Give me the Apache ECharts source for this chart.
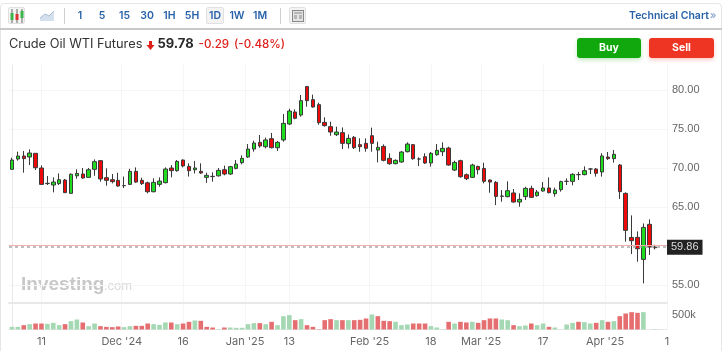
<!DOCTYPE html>
<html>
<head>
<meta charset="utf-8">
<title>Crude Oil WTI Futures</title>
<script src="https://cdn.jsdelivr.net/npm/echarts@6/dist/echarts.min.js"></script>
<style>
  html, body { margin: 0; padding: 0; background: #fff; }
  body { width: 726px; height: 351px; overflow: hidden; position: relative; font-family: Inter, "Liberation Sans", sans-serif; }
  #chart { position: absolute; left: 0; top: 0; width: 726px; height: 351px; }
  .frame { position: absolute; left: 0; top: 3px; width: 722px; height: 360px; border: 1.5px solid #e6e6e6; border-radius: 4px; box-sizing: border-box; }
  .bar { position: absolute; left: 0; top: 28px; width: 722px; height: 1.5px; background: #c9c9c9; }
  .t { position: absolute; top: 8px; height: 16px; line-height: 16px; transform: translateX(-50%); color: #2a62a8; font-size: 10.5px; font-weight: 600; white-space: nowrap; }
  .sep { position: absolute; top: 8px; width: 1px; height: 16px; background: #cfcfcf; }
  .btn { position: absolute; top: 7px; height: 17px; box-sizing: border-box; background: #f3f3f3; border: 1px solid #e0e0e0; border-radius: 2px; }
  .act { position: absolute; top: 38px; height: 20px; line-height: 20px; text-align: center; color: #fff; font-size: 10.5px; font-weight: 700; border-radius: 3px; }
  svg { position: absolute; }
</style>
</head>
<body>
<div id="chart"></div>
<div class="frame"></div>
<div class="bar"></div>
<div class="btn" style="left:8px;width:17px"></div>
<svg style="left:9px;top:8px" width="16" height="16">
  <path d="M3 1v14M8 1v14M13 1v14" stroke="#666" stroke-width="1"/>
  <rect x="1.5" y="5" width="3" height="7" fill="#3bb54a"/>
  <rect x="6.5" y="6" width="3" height="6" fill="#d33"/>
  <rect x="11.5" y="3" width="3" height="7" fill="#3bb54a"/>
</svg>
<svg style="left:40px;top:9px" width="15" height="13">
  <path d="M0 9L5 5L9 7L14 2V12H0Z" fill="#d5e0ee"/>
  <path d="M0 9L5 5L9 7L14 2" stroke="#a9bcd6" fill="none"/>
</svg>
<div class="sep" style="left:64px"></div>
<div class="btn" style="left:206px;width:18px"></div>
<div class="sep" style="left:280px"></div>
<div class="btn" style="left:289px;width:17px"></div>
<svg style="left:292px;top:10px" width="12" height="12">
  <rect x="0.5" y="0.5" width="11" height="11" fill="#e4e4e4" stroke="#888"/>
  <path d="M2 3h8M2 6h3M2 8h3M7 6h3M7 8h3" stroke="#888"/>
</svg>
<div class="t" style="left:80px">1</div>
<div class="t" style="left:102px">5</div>
<div class="t" style="left:124.5px">15</div>
<div class="t" style="left:147px">30</div>
<div class="t" style="left:169.5px">1H</div>
<div class="t" style="left:192px">5H</div>
<div class="t" style="left:215px">1D</div>
<div class="t" style="left:237px">1W</div>
<div class="t" style="left:260px">1M</div>
<div class="t" style="left:669px">Technical Chart</div>
<div class="t" style="left:713px;color:#8fa9cf">»</div>
<div class="act" style="left:577px;width:64px;background:#10a80c;box-shadow:0 2px 4px rgba(16,168,12,.25)">Buy</div>
<div class="act" style="left:649px;width:65px;background:#ee3524;box-shadow:0 2px 4px rgba(238,53,36,.25)">Sell</div>
<script>
// daily candles
var opens = [69.83,71.15,71.54,71.41,71.88,70,68,67.82,68,68.46,66.75,69,69.23,68.8,69.83,70.94,68.76,68.5,68.42,67.73,
  67.9,69.57,68.42,68.1,66.96,67.9,68.12,70,69.66,71.02,70.21,69.78,69.57,68.8,68.93,69,69.78,69.23,69.95,70.68,
  71.41,72.43,73.29,72.73,73.76,72.6,73.6,75.64,77.18,76.79,80.43,78.76,78.12,75.85,75.3,74.27,74.53,73.12,73.93,72.99,
  73.16,74.14,72.3,72.77,71.24,70.55,70.77,72.09,72.99,71.15,71.45,70.64,71.7,72.09,72.56,69.74,70.94,69.14,68.8,70.2,
  69.95,68.46,68.16,66.41,66.33,66.8,65.64,66.33,67.39,66.45,67.05,67.44,66.71,67.22,68.29,68.29,69.15,69.15,69.87,69.87,
  69.49,71.41,71.2,70.38,66.75,61.1,61.11,58.29,62.78,59.87];
var closes = [71.02,71.54,71.2,71.92,70.04,67.9,68.04,68.2,68.5,66.84,69.2,69.3,68.72,69.78,70.81,68.59,68.42,68.25,67.69,67.75,
  69.57,68.2,68,66.96,68.16,68.33,69.87,69.66,70.85,70.26,69.66,70,69.36,69.06,68.9,69.7,69.23,70.17,70.5,71.24,
  72.43,73.2,72.82,73.6,72.6,73.29,75.72,77.3,76.37,78.63,78.63,77.82,75.81,75.43,74.61,74.61,73.16,73.8,72.6,72.73,
  72.52,73.16,72.65,70.98,70.55,70.98,72.05,73.07,71.19,71.15,70.64,71.88,72.26,72.52,70.38,70.72,68.88,68.63,70.38,69.78,
  68.29,68.2,66.36,66.37,67.09,65.64,65.98,67.39,66.24,66.92,67.44,66.84,67.18,68.25,68.29,69.19,69.15,69.66,69.87,69.32,
  71.54,71.2,71.75,66.97,62.01,60.68,59.66,62.39,59.87,59.78];
var lows = [69.74,70.94,69.4,70.38,69.74,67.82,67.82,66.88,67.82,66.8,66.7,68.63,68.63,68.76,69,68.25,67.73,68.03,67.6,67.43,
  67.85,68.1,67.82,66.75,66.88,67.6,68.03,68.8,69.53,70.08,68.9,69.3,69.23,68.1,68.25,68.9,69.06,69.1,69.83,70.47,
  71.28,72.09,72.6,72.52,72.52,72.18,73.37,75.5,76.24,76.58,77.86,77.73,75.55,75.3,74.14,74.1,72.43,72.5,72.43,72.09,
  72.09,72.09,70.72,70.85,70.42,70.47,70.68,72,71.06,70.25,70.51,70.17,71.58,71.53,70.3,69.6,68.76,68.46,68.71,69.18,
  68.03,66.83,65.25,65.68,66.24,65.56,65.04,65.9,66.15,66.33,66.97,66.75,66.33,66.97,67.82,67.78,68.46,69.06,69.23,68.89,
  68.89,71.03,70.68,66.03,60.56,58.97,57.99,55.21,58.85,59.57];
var highs = [71.32,72.09,72.18,72.39,71.9,70.34,68.97,68.8,69.3,68.6,69.3,69.83,70,70,71.1,71.03,69.96,69.23,69.4,68.9,
  69.9,70.08,68.76,68.25,68.67,68.8,70.08,70.38,71.02,71.11,70.6,70.9,70.6,69.4,69.45,70,70.3,70.27,71.02,71.62,
  73.07,73.5,74.23,73.9,74.49,73.46,76.92,77.6,77.52,79.36,80.51,79.4,78.37,76.5,75.94,75.3,75.2,74.3,74.1,73.8,
  73.8,75.17,73.37,73.03,71.88,71.1,72.18,73.29,73.07,71.36,71.88,72.05,73.07,73.29,72.73,70.94,71.06,69.3,70.55,70.3,
  70.68,68.55,68.33,67.18,68.29,67.31,66.75,67.6,67.73,67.18,68.2,68.8,67.48,68.38,68.67,69.32,69.49,70.21,70,70,
  71.88,72.05,72.31,70.51,66.88,63.93,61.88,62.9,63.42,60.17];
// volume in thousands, 1 = green bar
var volumes = [92,92,150,184,207,207,195,230,150,184,288,345,242,115,207,115,92,81,104,81,
  115,127,127,207,184,161,242,242,184,207,265,311,299,92,69,12,69,69,58,58,
  184,219,219,184,265,150,460,495,322,357,150,92,12,322,357,322,322,322,322,334,
  380,518,460,299,288,265,150,173,207,207,207,115,69,12,265,207,265,242,265,230,
  322,380,380,345,322,150,115,138,207,150,207,92,69,5,173,230,265,253,207,230,
  322,265,288,460,552,598,575,598,0,12];
var volumeUp = [1,1,0,1,0,0,1,1,1,0,1,1,0,1,1,0,0,0,0,1,
  1,0,0,0,1,1,1,0,1,0,0,1,0,0,0,1,0,1,1,1,
  1,1,0,1,0,1,1,1,0,1,0,0,0,0,0,1,0,1,0,0,
  0,1,0,0,0,1,1,1,0,0,0,1,1,1,0,1,0,0,1,0,
  0,0,0,1,1,0,1,1,0,1,1,0,1,1,1,1,0,1,1,0,
  1,0,1,0,0,0,0,1,1,1];
var tickLabels = ['11',"Dec '24",'16',"Jan '25",'13',"Feb '25",'18',"Mar '25",'17',"Apr '25",'1'];
var tickSlots = [5,18.6,29,39.5,47,60.6,71,79.5,90,100.5,111];
var priceTicks = [55,65,70,75,80];
var volumeTicks = [500];
var lastPrice = 59.86;
var prevLine = 60.1;

var candles = opens.map(function (o, i) { return [i, o, closes[i], lows[i], highs[i]]; });
var volumeBars = volumes.map(function (v, i) {
  return { value: [i, v], itemStyle: { color: volumeUp[i] ? '#a3d8b2' : '#e56e70' } };
});

function xAxisFor(grid, withLabels) {
  return {
    type: 'value', gridIndex: grid, min: -0.5, max: 111, position: 'bottom',
    axisLine: { show: true, lineStyle: { color: '#e8e8e8', width: grid ? 1 : 2 } },
    axisTick: { show: false, customValues: tickSlots },
    splitLine: { show: true, lineStyle: { color: '#f5f5f5' } },
    axisLabel: {
      show: withLabels, customValues: tickSlots, margin: 7, fontSize: 11, color: '#666',
      fontFamily: 'Inter',
      formatter: function (v) { return tickLabels[tickSlots.indexOf(v)]; }
    }
  };
}

var chart = echarts.init(document.getElementById('chart'));
chart.setOption({
  animation: false,
  backgroundColor: '#fff',
  title: {
    left: 4, top: 33,
    text: 'Crude Oil WTI Futures{a| }{p|59.78}{g| }{c|-0.29}{g| }{c|(-0.48%)}',
    textStyle: {
      fontFamily: 'Inter', fontSize: 12.8, fontWeight: 400, color: '#333',
      rich: {
        a: { width: 15 },
        g: { width: 5 },
        p: { fontFamily: 'Inter', fontSize: 13, fontWeight: 700, color: '#2a2a2a' },
        c: { fontFamily: 'Inter', fontSize: 11.6, fontWeight: 500, color: '#e0201a' }
      }
    }
  },
  graphic: [
    { type: 'polygon', z: 5, shape: { points: [[149, 41], [152, 41], [152, 45], [154.5, 45], [150.5, 50], [146.5, 45], [149, 45]] }, style: { fill: '#e0201a' } },
    { type: 'text', left: 21, top: 275, z: 0, style: { text: 'Investing', fontFamily: 'Liberation Sans', fontSize: 19, fontWeight: 700, fill: '#c8c8c8' } },
    { type: 'text', left: 104, top: 280, z: 0, style: { text: '.com', fontFamily: 'Liberation Sans', fontSize: 13, fill: '#d8d8d8' } }
  ],
  grid: [
    { left: 9, right: 59, top: 65, height: 238 },
    { left: 9, right: 59, top: 305, height: 24.5 }
  ],
  xAxis: [xAxisFor(0, false), xAxisFor(1, true)],
  yAxis: [
    {
      type: 'value', gridIndex: 0, position: 'right', min: 52.7, max: 83.2, scale: true,
      axisLine: { show: true, lineStyle: { color: '#e8e8e8' } },
      axisTick: { show: false, customValues: priceTicks },
      splitLine: { show: true, lineStyle: { color: '#f5f5f5' } },
      axisLabel: {
        customValues: priceTicks, margin: 5, fontSize: 11, color: '#666', fontFamily: 'Liberation Sans',
        padding: [2, 0, 0, 0],
        formatter: function (v) { return v.toFixed(2); }
      }
    },
    {
      type: 'value', gridIndex: 1, position: 'right', min: 0, max: 845,
      axisLine: { show: true, lineStyle: { color: '#e8e8e8' } },
      axisTick: { show: false, customValues: volumeTicks },
      splitLine: { show: false },
      axisLabel: {
        customValues: volumeTicks, margin: 5, fontSize: 11, color: '#666', fontFamily: 'Liberation Sans',
        padding: [3, 0, 0, 0],
        formatter: function (v) { return v + 'k'; }
      }
    }
  ],
  series: [
    {
      type: 'candlestick', xAxisIndex: 0, yAxisIndex: 0, barWidth: 4,
      data: candles,
      itemStyle: {
        color: '#1fdc1f', color0: '#ee0a0a',
        borderColor: '#3a3a3a', borderColor0: '#3a3a3a', borderColorDoji: '#3a3a3a', borderWidth: 1
      },
      markLine: {
        silent: true, symbol: 'none', animation: false,
        data: [
          { yAxis: prevLine, lineStyle: { color: '#f3b0b0', type: 'solid', width: 1 }, label: { show: false } },
          {
            yAxis: lastPrice, lineStyle: { color: '#aaaaaa', type: [3, 3], width: 1.5 },
            label: {
              show: true, position: 'end', distance: 0, formatter: lastPrice.toFixed(2),
              backgroundColor: '#222', color: '#ddd', fontSize: 11, fontFamily: 'Liberation Sans', padding: [2, 4]
            }
          }
        ]
      }
    },
    {
      type: 'bar', xAxisIndex: 1, yAxisIndex: 1, barWidth: 4.6,
      data: volumeBars
    }
  ]
});
</script>
</body>
</html>
